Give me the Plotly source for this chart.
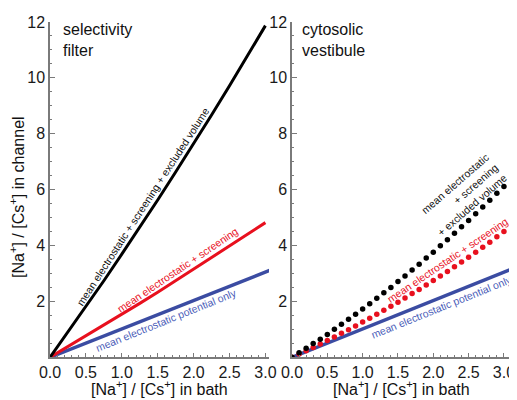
import numpy as np
import plotly.graph_objects as go

# ---------------- data ----------------
# left panel: selectivity filter (continuous curves)
sf_bath = [0.0, 0.25, 0.5, 0.75, 1.0, 1.25, 1.5, 1.75, 2.0, 2.25, 2.5, 2.75, 3.0]
sf_excluded = [0.0, 0.90, 1.81, 2.74, 3.69, 4.65, 5.63, 6.63, 7.64, 8.67, 9.72, 10.78, 11.87]
sf_screening = [0.0, 0.38, 0.76, 1.15, 1.54, 1.93, 2.33, 2.74, 3.14, 3.56, 3.98, 4.40, 4.82]
mean_only_bath = [0.0, 3.1]
mean_only_channel = [0.0, 3.15]

# right panel: cytosolic vestibule (dotted series)
cv_bath = [0.0, 0.1, 0.2, 0.3, 0.4, 0.5, 0.6, 0.7, 0.8, 0.9, 1.0, 1.1, 1.2, 1.3, 1.4, 1.5,
           1.6, 1.7, 1.8, 1.9, 2.0, 2.1, 2.2, 2.3, 2.4, 2.5, 2.6, 2.7, 2.8, 2.9, 3.0]
cv_excluded = [0.0, 0.16, 0.32, 0.49, 0.65, 0.82, 1.00, 1.18, 1.36, 1.54, 1.73, 1.92, 2.11,
               2.31, 2.50, 2.71, 2.91, 3.12, 3.33, 3.55, 3.76, 3.99, 4.21, 4.44, 4.67, 4.90,
               5.14, 5.38, 5.62, 5.87, 6.11]
cv_screening = [0.0, 0.12, 0.23, 0.35, 0.48, 0.60, 0.73, 0.86, 0.99, 1.12, 1.26, 1.40, 1.54,
                1.68, 1.83, 1.97, 2.12, 2.28, 2.43, 2.59, 2.75, 2.91, 3.07, 3.24, 3.41, 3.58,
                3.76, 3.94, 4.12, 4.31, 4.50]

x_tick_vals = [0.0, 0.5, 1.0, 1.5, 2.0, 2.5, 3.0]
y_tick_vals = [2, 4, 6, 8, 10, 12]

# ---------------- styles ----------------
BLACK = "#000000"
RED = "#e8101e"
BLUE = "#3b4ca2"
BLUE_TXT = "#4a5cb8"
AX = "#7a7a7a"
FONT = "Liberation Sans, Arial, sans-serif"

# the page body keeps an 8px margin at top-left, so the figure starts at (8, 8)
# and is sized to reach the window's right and bottom edges; layout positions
# below are given in window pixels and converted to paper fractions
PAGE_MARGIN = 8
W, H = 517 - PAGE_MARGIN, 400 - PAGE_MARGIN


def px(xw):
    return (xw - PAGE_MARGIN) / W


def py(yw):
    return 1 - (yw - PAGE_MARGIN) / H


fig = go.Figure()

# left panel
fig.add_trace(go.Scatter(x=mean_only_bath, y=mean_only_channel, mode="lines",
                         line=dict(color=BLUE, width=3.5), xaxis="x", yaxis="y"))
fig.add_trace(go.Scatter(x=sf_bath, y=sf_screening, mode="lines",
                         line=dict(color=RED, width=3), xaxis="x", yaxis="y"))
fig.add_trace(go.Scatter(x=sf_bath, y=sf_excluded, mode="lines",
                         line=dict(color=BLACK, width=3), xaxis="x", yaxis="y"))

# right panel
fig.add_trace(go.Scatter(x=mean_only_bath, y=mean_only_channel, mode="lines",
                         line=dict(color=BLUE, width=3.5), xaxis="x2", yaxis="y2"))
fig.add_trace(go.Scatter(x=cv_bath, y=cv_screening, mode="markers",
                         marker=dict(color=RED, size=5.5), xaxis="x2", yaxis="y2"))
fig.add_trace(go.Scatter(x=cv_bath, y=cv_excluded, mode="markers",
                         marker=dict(color=BLACK, size=5.5), xaxis="x2", yaxis="y2"))

TF = dict(family=FONT, size=16, color="#1a1a1a")


def xax(domain, rng, anchor):
    return dict(domain=domain, range=rng, anchor=anchor, showline=True, linecolor=AX,
                linewidth=1.5, ticks="inside", ticklen=5, tickwidth=1.2, tickcolor=AX,
                tickmode="array", tickvals=x_tick_vals, tickformat=".1f", tickfont=TF,
                minor=dict(ticks="inside", tickmode="linear", tick0=0, dtick=0.1,
                           ticklen=2.5, tickwidth=1, tickcolor=AX),
                showgrid=False, zeroline=False, fixedrange=True, automargin=False)


def yax(anchor):
    return dict(domain=[py(357.3), py(22)], range=[0, 12], anchor=anchor, showline=True,
                linecolor=AX, linewidth=1.5, ticks="inside", ticklen=5, tickwidth=1.2,
                tickcolor=AX, tickmode="array", tickvals=y_tick_vals, tickfont=TF,
                minor=dict(ticks="inside", tickmode="linear", tick0=0, dtick=0.5,
                           ticklen=2.5, tickwidth=1, tickcolor=AX),
                showgrid=False, zeroline=False, fixedrange=True, automargin=False)


annotations = []


def line_label(text, xref, yref, xs, ys, x_at, angle, d, color, align="center", yshift=None):
    y_at = float(np.interp(x_at, xs, ys))
    shift = d / np.cos(np.radians(angle)) if yshift is None else yshift
    annotations.append(dict(text=text, x=x_at, y=y_at, xref=xref, yref=yref,
                            showarrow=False, textangle=-angle, yshift=shift,
                            xanchor="center", yanchor="middle", align=align,
                            font=dict(family=FONT, size=10.5, color=color)))


# left panel labels
line_label("mean electrostatic + screening + excluded volume", "x", "y",
           sf_bath, sf_excluded, 1.30, 57, 8.5, "#111111")
line_label("mean electrostatic + screening", "x", "y",
           sf_bath, sf_screening, 1.77, 34, 8.5, RED)
line_label("mean electrostatic potential only", "x", "y",
           mean_only_bath, mean_only_channel, 1.62, 22, -8.5, BLUE_TXT)

# right panel labels
line_label("mean electrostatic<br>+ screening<br>+ excluded volume", "x2", "y2",
           cv_bath, cv_excluded, 2.42, 41, 0, "#111111", align="right", yshift=31)
line_label("mean electrostatic + screening", "x2", "y2",
           cv_bath, cv_screening, 2.20, 34, 9.8, RED)
line_label("mean electrostatic potential only", "x2", "y2",
           mean_only_bath, mean_only_channel, 2.11, 22, -8.5, BLUE_TXT)

# panel titles
for txt, xw in [("selectivity<br>filter", 61), ("cytosolic<br>vestibule", 300)]:
    annotations.append(dict(text=txt, x=px(xw), y=py(19), xref="paper", yref="paper",
                            xanchor="left", yanchor="top", align="left", showarrow=False,
                            font=dict(family=FONT, size=16, color="#111111")))

# axis titles
for xc in [159.5, 401.5]:
    annotations.append(dict(text="[Na<sup>+</sup>] / [Cs<sup>+</sup>] in bath",
                            x=px(xc), y=py(387.5), xref="paper", yref="paper",
                            xanchor="center", yanchor="middle", showarrow=False,
                            font=dict(family=FONT, size=16, color="#111111")))
annotations.append(dict(text="[Na<sup>+</sup>] / [Cs<sup>+</sup>] in channel",
                        x=px(17), y=py(197), xref="paper", yref="paper",
                        xanchor="center", yanchor="middle", textangle=-90, showarrow=False,
                        font=dict(family=FONT, size=16, color="#111111")))

fig.update_layout(
    width=W, height=H, autosize=False,
    margin=dict(l=0, r=0, t=0, b=0, pad=0),
    paper_bgcolor="white", plot_bgcolor="white",
    showlegend=False,
    xaxis=xax([px(50), px(269)], [0, 3.05], "y"),
    yaxis=yax("x"),
    xaxis2=xax([px(292), px(511)], [0, 3.1], "y2"),
    yaxis2=yax("x2"),
    annotations=annotations,
)

fig.write_html("out.html", config=dict(displayModeBar=False))
